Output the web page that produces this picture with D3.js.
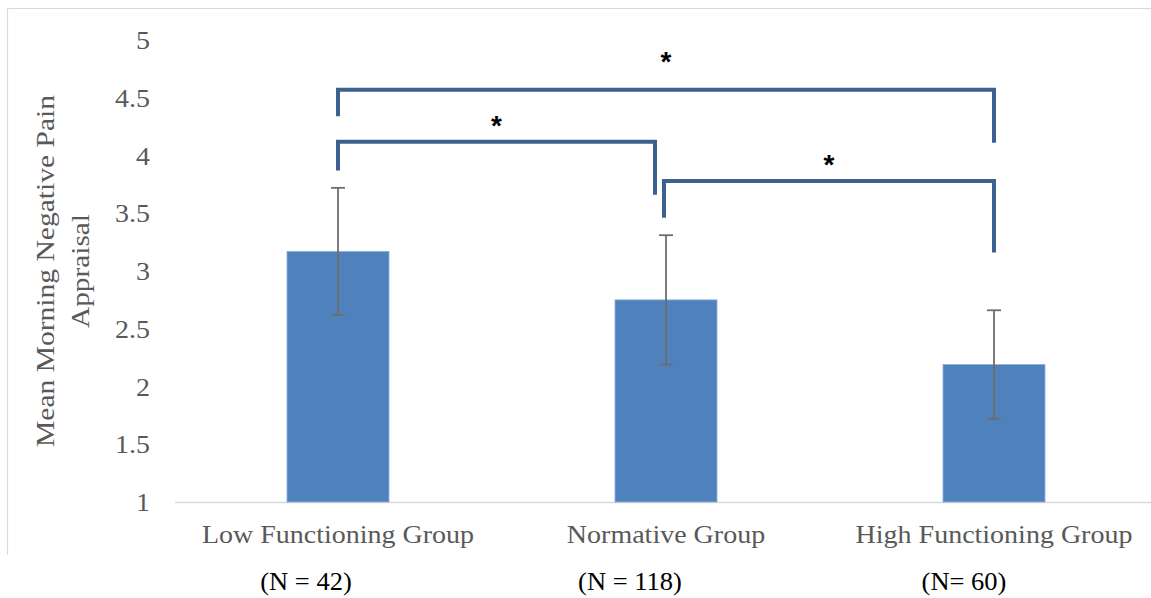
<!DOCTYPE html>
<html>
<head>
<meta charset="utf-8">
<script src="https://cdn.jsdelivr.net/npm/d3@7"></script>
<style>
  html, body { margin: 0; padding: 0; background: #fff; }
  svg { display: block; }
</style>
</head>
<body>
<svg id="chart" width="1151" height="598"></svg>
<script>
// ---- data ----
const categories = ["Low Functioning Group", "Normative Group", "High Functioning Group"];
const sampleLabels = ["(N = 42)", "(N = 118)", "(N= 60)"];
const means = [3.17, 2.75, 2.19];
const errors = [0.55, 0.56, 0.47];
const yTicks = [1, 1.5, 2, 2.5, 3, 3.5, 4, 4.5, 5];
const yTitleLines = ["Mean Morning Negative Pain", "Appraisal"];
// significance brackets: from/to category index, bar level, left leg end, right leg end, star level
const bracketFrom = [0, 0, 1];
const bracketTo = [2, 1, 2];
const bracketTop = [4.57, 4.12, 3.78];
const bracketLeftEnd = [4.34, 3.87, 3.46];
const bracketRightEnd = [4.11, 3.66, 3.16];
const starLevel = [4.84, 4.28, 3.94];
const starText = ["*", "*", "*"];

// ---- layout ----
const svg = d3.select("#chart");
const W = 1151, H = 598;
const x = d3.scaleBand().domain(categories).range([174, 1158]).paddingInner(0.689).paddingOuter(0.3445);
const y = d3.scaleLinear().domain([1, 5]).range([502, 40]);
const cx = i => x(categories[i]) + x.bandwidth() / 2;

function stretch(sel, f) {
  sel.each(function () {
    const n = this.getComputedTextLength();
    d3.select(this).attr("textLength", n * f).attr("lengthAdjust", "spacingAndGlyphs");
  });
}

// outer frame (top & left edges visible)
svg.append("line").attr("x1", 8).attr("x2", W).attr("y1", 8.5).attr("y2", 8.5)
  .attr("stroke", "#d9d9d9").attr("stroke-width", 1.2);
svg.append("line").attr("x1", 7.5).attr("x2", 7.5).attr("y1", 8).attr("y2", 555)
  .attr("stroke", "#d9d9d9").attr("stroke-width", 1.2);

const textColor = "#595959";
const serif = "'Liberation Serif', 'Times New Roman', serif";

// y axis (labels only)
const yAxis = d3.axisLeft(y).tickValues(yTicks).tickSize(0).tickPadding(0).tickFormat(d3.format("~g"));
const gy = svg.append("g").attr("transform", "translate(150,0)").call(yAxis);
gy.select(".domain").remove();
gy.selectAll("text").attr("fill", textColor).style("font-family", serif).style("font-size", "25px")
  .attr("dy", "0.34em");
stretch(gy.selectAll("text"), 1.12);

// baseline
svg.append("line").attr("x1", 175).attr("x2", W).attr("y1", y(1) + 0.5).attr("y2", y(1) + 0.5)
  .attr("stroke", "#d9d9d9").attr("stroke-width", 1.5);

// bars
svg.append("g").selectAll("rect").data(means).join("rect")
  .attr("x", (d, i) => x(categories[i]))
  .attr("width", x.bandwidth())
  .attr("y", d => y(d))
  .attr("height", d => y(1) - y(d))
  .attr("fill", "#4f81bd")
  .attr("stroke", "#8fb0d9").attr("stroke-width", 0.8);

// error bars
const eg = svg.append("g").attr("stroke", "#6d6d6d").attr("stroke-width", 1.8);
means.forEach((m, i) => {
  const c = cx(i);
  eg.append("line").attr("x1", c).attr("x2", c).attr("y1", y(m + errors[i])).attr("y2", y(m - errors[i]));
  eg.append("line").attr("x1", c - 7).attr("x2", c + 7).attr("y1", y(m + errors[i])).attr("y2", y(m + errors[i]));
  eg.append("line").attr("x1", c - 7).attr("x2", c + 7).attr("y1", y(m - errors[i])).attr("y2", y(m - errors[i]));
});

// category labels
const xAxis = d3.axisBottom(x).tickSize(0).tickPadding(0);
const gx = svg.append("g").attr("transform", "translate(0,543)").call(xAxis);
gx.select(".domain").remove();
gx.selectAll("text").attr("fill", textColor).style("font-family", serif).style("font-size", "25px")
  .attr("dy", 0).attr("y", 0);
stretch(gx.selectAll("text"), 1.12);

// sample size labels
const nCenters = [306, 630, 964];
const nt = svg.append("g").selectAll("text").data(sampleLabels).join("text")
  .attr("x", (d, i) => nCenters[i]).attr("y", 590)
  .attr("text-anchor", "middle").attr("fill", "#000")
  .style("font-family", serif).style("font-size", "25px")
  .text(d => d);
stretch(nt, 1.06);

// y title
const yt = svg.append("text").attr("transform", "translate(0,271) rotate(-90)")
  .attr("text-anchor", "middle").attr("fill", textColor)
  .style("font-family", serif).style("font-size", "25px");
yt.append("tspan").attr("x", 0).attr("y", 54).attr("textLength", 352).attr("lengthAdjust", "spacingAndGlyphs").text(yTitleLines[0]);
yt.append("tspan").attr("x", 0).attr("y", 89).attr("textLength", 114).attr("lengthAdjust", "spacingAndGlyphs").text(yTitleLines[1]);

// significance brackets
const bracketColor = "#3c6090";
const legOffsetL = [0, 0, -2];
const legOffsetR = [0, -11, 0];
const bg = svg.append("g");
bracketFrom.forEach((f, k) => {
  const x1 = cx(f) + legOffsetL[k], x2 = cx(bracketTo[k]) + legOffsetR[k];
  const p = d3.path();
  p.moveTo(x1, y(bracketLeftEnd[k]));
  p.lineTo(x1, y(bracketTop[k]));
  p.lineTo(x2, y(bracketTop[k]));
  p.lineTo(x2, y(bracketRightEnd[k]));
  bg.append("path").attr("d", p.toString()).attr("fill", "none")
    .attr("stroke", bracketColor).attr("stroke-width", 4).attr("stroke-linejoin", "miter");
  bg.append("text").attr("x", (x1 + x2) / 2).attr("y", y(starLevel[k]))
    .attr("text-anchor", "middle").attr("dy", "0.43em")
    .attr("fill", "#000").style("font-family", "'Liberation Sans', Arial, sans-serif")
    .style("font-weight", "bold").style("font-size", "28px")
    .text(starText[k]);
});
</script>
</body>
</html>
